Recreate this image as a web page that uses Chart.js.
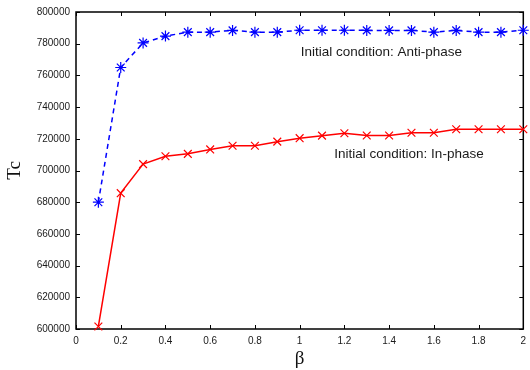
<!DOCTYPE html>
<html>
<head>
<meta charset="utf-8">
<script src="https://cdn.jsdelivr.net/npm/chart.js@4/dist/chart.umd.min.js"></script>
<style>
  body { margin: 0; background: #fff; }
  #wrap { width: 530px; height: 370px; }
</style>
</head>
<body>
<div id="wrap"><canvas id="tcChart" width="530" height="370"></canvas></div>
<script>
// beta values on the x axis
const betaValues = [0.1, 0.2, 0.3, 0.4, 0.5, 0.6, 0.7, 0.8, 0.9, 1.0,
                    1.1, 1.2, 1.3, 1.4, 1.5, 1.6, 1.7, 1.8, 1.9, 2.0];
// Tc, initial condition anti-phase
const antiPhaseTc = [680000, 765000, 780500, 784800, 787300, 787300, 788400, 787300, 787300, 788500,
                     788500, 788500, 788400, 788400, 788400, 787300, 788400, 787300, 787300, 788500];
// Tc, initial condition in-phase
const inPhaseTc = [601600, 685700, 704000, 709000, 710500, 713300, 715600, 715600, 718200, 720400,
                   722000, 723500, 722100, 722100, 723800, 723800, 726000, 726000, 726000, 726000];
const xTicks = { min: 0, max: 2, step: 0.2 };
const yTicks = { min: 600000, max: 800000, step: 20000 };
const seriesLabels = ['Initial condition: Anti-phase', 'Initial condition: In-phase'];

document.addEventListener("DOMContentLoaded", function () {
    const ctx = document.getElementById('tcChart').getContext('2d');

    // gnuplot style box with inward ticks on all four sides, plus the two text labels
    const framePlugin = {
        id: 'frame',
        beforeDatasetsDraw(chart) {
            const { ctx, chartArea: a, scales } = chart;
            ctx.save();
            ctx.strokeStyle = '#000';
            ctx.lineWidth = 1.5;
            ctx.strokeRect(a.left, a.top, a.right - a.left, a.bottom - a.top);
            ctx.lineWidth = 1;
            const len = 4;
            ctx.beginPath();
            scales.x.ticks.forEach(t => {
                const px = Math.round(scales.x.getPixelForValue(t.value)) + 0.5;
                ctx.moveTo(px, a.bottom); ctx.lineTo(px, a.bottom - len);
                ctx.moveTo(px, a.top); ctx.lineTo(px, a.top + len);
            });
            scales.y.ticks.forEach(t => {
                const py = Math.round(scales.y.getPixelForValue(t.value)) + 0.5;
                ctx.moveTo(a.left, py); ctx.lineTo(a.left + len, py);
                ctx.moveTo(a.right, py); ctx.lineTo(a.right - len, py);
            });
            ctx.stroke();
            ctx.restore();
        },
        afterDraw(chart) {
            const { ctx, scales } = chart;
            ctx.save();
            ctx.fillStyle = '#1a1a1a';
            ctx.font = '13.5px "Liberation Sans", Arial, sans-serif';
            ctx.textBaseline = 'middle';
            ctx.textAlign = 'left';
            ctx.fillText(seriesLabels[0], scales.x.getPixelForValue(1.005), scales.y.getPixelForValue(774700));
            ctx.fillText(seriesLabels[1], scales.x.getPixelForValue(1.155), scales.y.getPixelForValue(710000));
            ctx.restore();
        }
    };

    new Chart(ctx, {
        type: 'line',
        data: {
            datasets: [
                {
                    label: seriesLabels[0],
                    data: betaValues.map((b, i) => ({ x: b, y: antiPhaseTc[i] })),
                    borderColor: '#0000ff',
                    backgroundColor: '#0000ff',
                    borderWidth: 1.5,
                    borderDash: [5, 4],
                    pointStyle: 'star',
                    pointRadius: 5.5,
                    pointBorderWidth: 1.2,
                    pointBorderColor: '#0000ff',
                    fill: false,
                    tension: 0,
                    clip: false
                },
                {
                    label: seriesLabels[1],
                    data: betaValues.map((b, i) => ({ x: b, y: inPhaseTc[i] })),
                    borderColor: '#ff0000',
                    backgroundColor: '#ff0000',
                    borderWidth: 1.5,
                    pointStyle: 'crossRot',
                    pointRadius: 5.5,
                    pointBorderWidth: 1.2,
                    pointBorderColor: '#ff0000',
                    fill: false,
                    tension: 0,
                    clip: false
                }
            ]
        },
        options: {
            responsive: false,
            animation: false,
            layout: { padding: { left: 0, top: 12, right: 0, bottom: 0 } },
            scales: {
                x: {
                    type: 'linear',
                    min: xTicks.min,
                    max: xTicks.max,
                    afterFit(scale) {
                        scale.height = 41;
                        scale.paddingLeft = 0;
                        scale.paddingRight = 0;
                    },
                    grid: { display: false, drawTicks: false },
                    border: { display: false },
                    ticks: {
                        stepSize: xTicks.step,
                        padding: 6,
                        color: '#1a1a1a',
                        font: { family: '"Liberation Sans", Arial, sans-serif', size: 10 },
                        maxRotation: 0,
                        callback: v => String(Math.round(v * 10) / 10)
                    },
                    title: {
                        display: true,
                        text: 'β',
                        color: '#111',
                        font: { family: '"Liberation Serif", "Times New Roman", serif', size: 19 },
                        padding: { top: 0, bottom: 0 }
                    }
                },
                y: {
                    min: yTicks.min,
                    max: yTicks.max,
                    afterFit(scale) {
                        scale.width = 76;
                        scale.paddingTop = 0;
                        scale.paddingBottom = 0;
                    },
                    grid: { display: false, drawTicks: false },
                    border: { display: false },
                    ticks: {
                        stepSize: yTicks.step,
                        padding: 6,
                        color: '#1a1a1a',
                        font: { family: '"Liberation Sans", Arial, sans-serif', size: 10 },
                        callback: v => String(v)
                    },
                    title: {
                        display: true,
                        text: 'Tc',
                        color: '#111',
                        font: { family: '"Liberation Serif", "Times New Roman", serif', size: 19 },
                        padding: { top: 4, bottom: 4 }
                    }
                }
            },
            plugins: {
                legend: { display: false },
                title: { display: false },
                tooltip: { enabled: false }
            }
        },
        plugins: [framePlugin]
    });
});
</script>
</body>
</html>
